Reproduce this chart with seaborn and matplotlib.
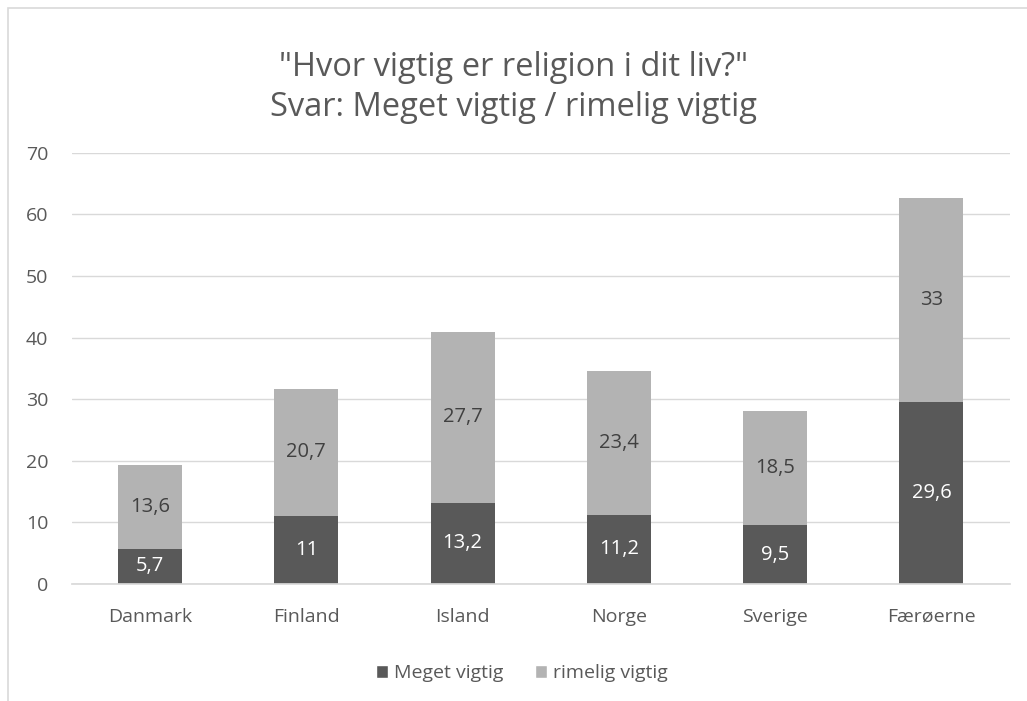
import matplotlib
matplotlib.use("Agg")
import matplotlib.pyplot as plt
import seaborn as sns
import pandas as pd
from matplotlib.patches import Patch, Rectangle

countries = ["Danmark", "Finland", "Island", "Norge", "Sverige", "Færøerne"]
meget = [5.7, 11, 13.2, 11.2, 9.5, 29.6]
rimelig = [13.6, 20.7, 27.7, 23.4, 18.5, 33]
yticks = [0, 10, 20, 30, 40, 50, 60, 70]

DARK = "#595959"
LIGHT = "#b3b3b3"
TEXT = "#595959"

sns.set_theme(style="white")
plt.rcParams["font.family"] = ["Open Sans", "DejaVu Sans"]

df = pd.DataFrame({"land": countries, "meget": meget, "rimelig": rimelig})

fig = plt.figure(figsize=(10.27, 7.01), dpi=100)
ax = fig.add_axes([0.070, 0.167, 0.913, 0.615])

sns.barplot(data=df, x="land", y="meget", color=DARK, width=0.41,
            saturation=1, linewidth=0, ax=ax)
sns.barplot(data=df, x="land", y="rimelig", bottom=df["meget"], color=LIGHT,
            width=0.41, saturation=1, linewidth=0, ax=ax)


def fmt(v):
    return ("%g" % v).replace(".", ",")


ax.bar_label(ax.containers[0], labels=[fmt(v) for v in meget],
             label_type="center", color="white", fontsize=14.5)
ax.bar_label(ax.containers[1], labels=[fmt(v) for v in rimelig],
             label_type="center", color="#404040", fontsize=14.5)

ax.set_ylim(0, 70)
ax.set_yticks(yticks)
ax.set_xlim(-0.5, len(countries) - 0.5)
ax.yaxis.grid(True, color="#d9d9d9", linewidth=1)
ax.set_axisbelow(True)
for s in ["top", "right", "left"]:
    ax.spines[s].set_visible(False)
ax.spines["bottom"].set_color("#d9d9d9")
ax.set_xlabel("")
ax.set_ylabel("")
ax.tick_params(axis="both", length=0, labelsize=14, labelcolor=TEXT)
ax.tick_params(axis="x", pad=17)
ax.tick_params(axis="y", pad=17)

fig.text(0.5, 0.875, '"Hvor vigtig er religion i dit liv?"\nSvar: Meget vigtig / rimelig vigtig',
         ha="center", va="center", fontsize=23.5, color=TEXT, linespacing=1.25)

handles = [Patch(facecolor=DARK, label="Meget vigtig"),
           Patch(facecolor=LIGHT, label="rimelig vigtig")]
leg = fig.legend(handles=handles, loc="center", bbox_to_anchor=(0.508, 0.040),
                 ncol=2, frameon=False, fontsize=14, handlelength=0.65,
                 handleheight=0.65, handletextpad=0.3, columnspacing=1.6)
for t in leg.get_texts():
    t.set_color(TEXT)

fig.patches.append(Rectangle((8 / 1027, -0.1), 1.2, 1.1 - 8 / 701,
                             transform=fig.transFigure, fill=False,
                             edgecolor="#d9d9d9", linewidth=1.2))

fig.savefig("out.png", dpi=100)
